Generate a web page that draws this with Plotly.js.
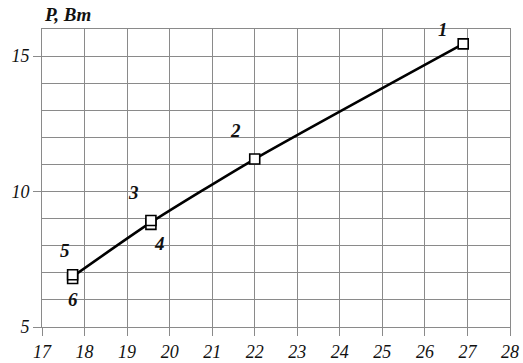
<!DOCTYPE html>
<html><head><meta charset="utf-8">
<script src="https://cdn.plot.ly/plotly-3.0.1.min.js"></script>
<style>html,body{margin:0;padding:0;background:#fff}#chart{width:523px;height:363px}</style>
</head><body><div id="chart"></div>
<script>
// curve through the measurement points
const lineX = [17.72, 19.56, 22.0, 26.9];
const lineY = [6.86, 8.86, 11.2, 15.45];
// individual measurement markers 1..6
const pointNames = ["1", "2", "3", "4", "5", "6"];
const pointX = [26.9, 22.0, 19.56, 19.56, 17.72, 17.72];
const pointY = [15.45, 11.2, 8.93, 8.79, 6.93, 6.79];
// label positions for the point numbers
const labelX = [26.42, 21.54, 19.16, 19.77, 17.54, 17.73];
const labelY = [15.98, 12.27, 9.96, 8.1, 7.84, 6.0];
const yTicks = [5, 10, 15];
const xTicks = [17, 18, 19, 20, 21, 22, 23, 24, 25, 26, 27, 28];

const serif = "Liberation Serif";
const gridCol = "#8a8a8a";

const traces = [
  {x: lineX, y: lineY, mode: "lines", line: {color: "#000", width: 2.6, shape: "spline", smoothing: 0.6}, hoverinfo: "skip"},
  {x: pointX.slice().reverse(), y: pointY.slice().reverse(), mode: "markers",
   marker: {symbol: "square", size: 10, color: "#fff", line: {color: "#000", width: 1.6}}}
];

const annotations = pointNames.map((t, i) => ({
  x: labelX[i], y: labelY[i], xref: "x", yref: "y", text: "<b><i>" + t + "</i></b>",
  showarrow: false, font: {family: serif, size: 19, color: "#111"}
}));
annotations.push({xref: "paper", yref: "paper", x: 0, y: 1, xanchor: "left", yanchor: "bottom", yshift: 2,
  text: "<b><i>P, Вт</i></b>", showarrow: false, font: {family: serif, size: 19, color: "#111"}});

const layout = {
  width: 523, height: 363,
  margin: {l: 42, r: 13, t: 29, b: 36},
  font: {family: serif, size: 18, color: "#111"},
  paper_bgcolor: "#fff", plot_bgcolor: "#fff",
  showlegend: false,
  xaxis: {range: [17, 28], tickvals: xTicks, ticktext: xTicks.map(v => "<i>" + v + "</i>"),
    ticks: "outside", ticklen: 8, tickcolor: gridCol, tickwidth: 1,
    showgrid: true, gridcolor: gridCol, gridwidth: 1,
    zeroline: false, showline: true, linecolor: gridCol, linewidth: 1, mirror: true,
    tickfont: {family: serif, size: 18, color: "#111"}, fixedrange: true},
  yaxis: {range: [5, 16], tickvals: yTicks, ticktext: yTicks.map(v => "<i>" + v + "</i>"),
    ticks: "outside", ticklen: 8, tickcolor: gridCol, tickwidth: 1,
    showgrid: true, gridcolor: gridCol, gridwidth: 1,
    minor: {dtick: 1, showgrid: true, gridcolor: gridCol, gridwidth: 1, ticks: ""},
    zeroline: false, showline: true, linecolor: gridCol, linewidth: 1, mirror: true,
    tickfont: {family: serif, size: 18, color: "#111"}, fixedrange: true},
  annotations: annotations
};

Plotly.newPlot("chart", traces, layout, {displayModeBar: false, staticPlot: true});
</script></body></html>
